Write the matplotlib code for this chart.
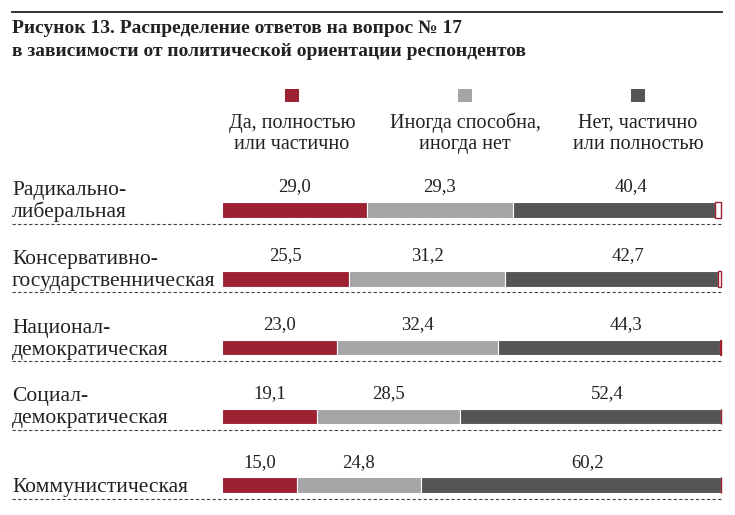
"""Рисунок 13: распределение ответов на вопрос № 17 по политической ориентации."""

import matplotlib

matplotlib.use("Agg")
import matplotlib.pyplot as plt
from matplotlib.patches import Rectangle
from matplotlib.transforms import blended_transform_factory
import numpy as np

plt.rcParams["font.family"] = ["Liberation Serif", "DejaVu Serif"]

groups = [
    "Радикально-\nлиберальная",
    "Консервативно-\nгосударственническая",
    "Национал-\nдемократическая",
    "Социал-\nдемократическая",
    "Коммунистическая",
]
answers = [
    "Да, полностью\nили частично",
    "Иногда способна,\nиногда нет",
    "Нет, частично\nили полностью",
]
yes_share = [29.0, 25.5, 23.0, 19.1, 15.0]
sometimes_share = [29.3, 31.2, 32.4, 28.5, 24.8]
no_share = [40.4, 42.7, 44.3, 52.4, 60.2]

RED = "#9c2233"
LIGHT = "#a5a5a8"
DARK = "#555558"
INK = "#222222"
colors = [RED, LIGHT, DARK]

W, H = 735, 515
fig = plt.figure(figsize=(W / 100, H / 100), dpi=100)


def fx(x):
    return x / W


def fy(y):
    return 1 - y / H


# bar area: 0..100 % maps to 222..721 px, rows 68.8 px apart starting at 210 px
top_px, bottom_px, row0, step = 160, 515, 210.0, 68.8
ax = fig.add_axes([fx(222), fy(bottom_px), (721 - 222) / W, (bottom_px - top_px) / H])
ax.set_xlim(0, 100)
ax.set_ylim((bottom_px - row0) / step, (top_px - row0) / step)
ax.axis("off")

# top rule and title
fig.add_artist(plt.Line2D([fx(12), fx(722)], [fy(12), fy(12)], color="#333333", lw=1.4))
fig.text(fx(12), fy(33), "Рисунок 13. Распределение ответов на вопрос № 17",
         fontsize=14, fontweight="bold", va="baseline", ha="left", color=INK)
fig.text(fx(12), fy(56), "в зависимости от политической ориентации респондентов",
         fontsize=14, fontweight="bold", va="baseline", ha="left", color=INK)

# legend
legend_x = [292, 465, 638]
for x, label, color in zip(legend_x, answers, colors):
    fig.add_artist(Rectangle((fx(x - 7), fy(102)), 14 / W, 13 / H, facecolor=color,
                             edgecolor="none", transform=fig.transFigure))
    for k, line in enumerate(label.split("\n")):
        fig.text(fx(x), fy(128 + 21 * k), line, fontsize=14.5, ha="center",
                 va="baseline", color=INK)

y = np.arange(len(groups))
yes = np.array(yes_share)
some = np.array(sometimes_share)
no = np.array(no_share)
rest = np.clip(100 - yes - some - no, 0, None)
bar_h = 15.5 / step

ax.barh(y, yes, height=bar_h, color=RED, edgecolor="white", linewidth=0.8)
ax.barh(y, some, left=yes, height=bar_h, color=LIGHT, edgecolor="white", linewidth=0.8)
ax.barh(y, no, left=yes + some, height=bar_h, color=DARK, edgecolor="white", linewidth=0.8)
ax.barh(y, rest, left=yes + some + no, height=bar_h, color="white", edgecolor=RED,
        linewidth=1.0, clip_on=False)

label_dy = 23 / step
for i in range(len(groups)):
    ax.text(yes[i] / 2, y[i] - label_dy, f"{yes[i]:.1f}".replace(".", ","),
            ha="center", va="center", fontsize=13.5, color=INK)
    ax.text(yes[i] + some[i] / 2, y[i] - label_dy, f"{some[i]:.1f}".replace(".", ","),
            ha="center", va="center", fontsize=13.5, color=INK)
    ax.text(yes[i] + some[i] + no[i] / 2 + 3.4, y[i] - label_dy,
            f"{no[i]:.1f}".replace(".", ","),
            ha="center", va="center", fontsize=13.5, color=INK)

# row labels and dashed separators
blend = blended_transform_factory(fig.transFigure, ax.transData)
for i, name in enumerate(groups):
    lines = name.split("\n")
    for k, line in enumerate(lines):
        offset = 7 - 22 * (len(lines) - 1 - k)
        ax.text(fx(12), y[i] + offset / step, line, transform=blend, fontsize=15.5,
                ha="left", va="baseline", color=INK)
    ax.plot([fx(12), fx(721)], [y[i] + 13.5 / step] * 2, transform=blend,
            color="#444444", lw=0.8, ls=(0, (3, 2)), clip_on=False)

fig.savefig("out.png", dpi=100)
